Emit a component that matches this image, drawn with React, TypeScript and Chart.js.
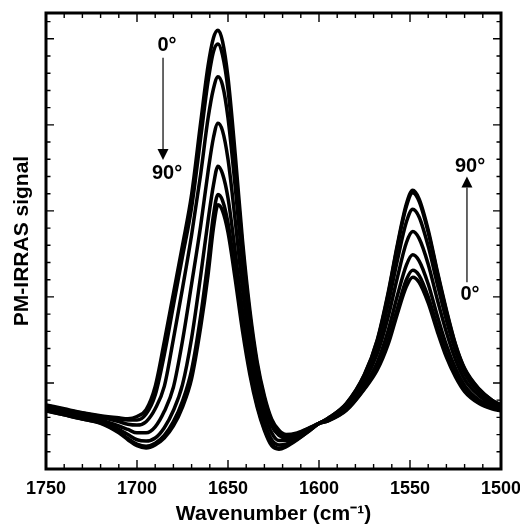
import { useEffect, useRef } from 'react';
import { Chart, registerables } from 'chart.js';

Chart.register(...registerables);

// Wavenumber grid (cm-1) at which the spectra were read
const WAVENUMBERS = [1750, 1740, 1730, 1720, 1710, 1705, 1700, 1695, 1690, 1685, 1680, 1675, 1670, 1665, 1661, 1658, 1655.5, 1653, 1650, 1646, 1642, 1638, 1634, 1630, 1626, 1622, 1618, 1612, 1605, 1600, 1595, 1585, 1575, 1568, 1562, 1557, 1552, 1548.5, 1545, 1540, 1535, 1530, 1525, 1520, 1512, 1505, 1500];

// PM-IRRAS signal (arbitrary units) for each polarisation angle
const S0 = [0.745, 0.70, 0.655, 0.62, 0.595, 0.585, 0.61, 0.69, 0.96, 1.48, 2.04, 2.60, 3.19, 4.03, 4.68, 5.01, 5.10, 4.97, 4.55, 3.65, 2.65, 1.85, 1.25, 0.85, 0.58, 0.45, 0.40, 0.42, 0.48, 0.53, 0.56, 0.68, 0.93, 1.15, 1.45, 1.80, 2.12, 2.23, 2.17, 1.93, 1.60, 1.30, 1.07, 0.90, 0.76, 0.70, 0.675];
const S15 = [0.74, 0.69, 0.65, 0.61, 0.58, 0.57, 0.57, 0.64, 0.86, 1.33, 1.90, 2.47, 3.04, 3.85, 4.50, 4.85, 4.94, 4.81, 4.41, 3.53, 2.57, 1.79, 1.21, 0.82, 0.56, 0.43, 0.39, 0.41, 0.48, 0.53, 0.56, 0.69, 0.94, 1.18, 1.50, 1.86, 2.20, 2.31, 2.25, 2.00, 1.66, 1.34, 1.10, 0.92, 0.77, 0.71, 0.68];
const S30 = [0.73, 0.68, 0.64, 0.60, 0.55, 0.52, 0.51, 0.55, 0.70, 0.96, 1.51, 2.10, 2.72, 3.43, 4.07, 4.42, 4.56, 4.46, 4.08, 3.27, 2.38, 1.66, 1.11, 0.75, 0.50, 0.39, 0.36, 0.40, 0.47, 0.53, 0.57, 0.70, 0.97, 1.24, 1.61, 2.01, 2.37, 2.49, 2.42, 2.15, 1.78, 1.44, 1.17, 0.97, 0.80, 0.73, 0.69];
const S45 = [0.71, 0.66, 0.62, 0.57, 0.50, 0.46, 0.42, 0.42, 0.49, 0.67, 0.95, 1.49, 2.15, 2.83, 3.45, 3.85, 4.02, 3.93, 3.60, 2.88, 2.09, 1.45, 0.97, 0.64, 0.42, 0.33, 0.33, 0.38, 0.46, 0.53, 0.58, 0.72, 1.02, 1.34, 1.77, 2.22, 2.63, 2.76, 2.68, 2.38, 1.97, 1.59, 1.27, 1.04, 0.85, 0.75, 0.71];
const S60 = [0.69, 0.645, 0.60, 0.55, 0.46, 0.40, 0.34, 0.325, 0.36, 0.48, 0.68, 0.98, 1.52, 2.25, 2.88, 3.30, 3.52, 3.43, 3.15, 2.52, 1.83, 1.27, 0.84, 0.54, 0.34, 0.28, 0.29, 0.36, 0.46, 0.53, 0.58, 0.74, 1.06, 1.42, 1.92, 2.42, 2.87, 3.02, 2.93, 2.59, 2.15, 1.73, 1.37, 1.11, 0.89, 0.78, 0.73];
const S75 = [0.68, 0.63, 0.58, 0.535, 0.43, 0.355, 0.29, 0.265, 0.30, 0.39, 0.55, 0.79, 1.15, 1.78, 2.42, 2.95, 3.19, 3.12, 2.86, 2.29, 1.66, 1.15, 0.75, 0.47, 0.29, 0.24, 0.27, 0.345, 0.45, 0.53, 0.59, 0.76, 1.095, 1.49, 2.03, 2.58, 3.05, 3.21, 3.11, 2.75, 2.28, 1.83, 1.44, 1.16, 0.925, 0.80, 0.74];
const S90 = [0.675, 0.63, 0.58, 0.53, 0.42, 0.34, 0.27, 0.245, 0.28, 0.36, 0.50, 0.72, 1.05, 1.65, 2.25, 2.80, 3.07, 3.00, 2.75, 2.20, 1.60, 1.10, 0.72, 0.45, 0.27, 0.23, 0.26, 0.34, 0.45, 0.53, 0.59, 0.76, 1.10, 1.50, 2.05, 2.60, 3.08, 3.24, 3.14, 2.78, 2.30, 1.85, 1.45, 1.17, 0.93, 0.80, 0.745];

const ANGLES = ['0°', '15°', '30°', '45°', '60°', '75°', '90°'];
const SERIES = [S0, S15, S30, S45, S60, S75, S90];

// Axes
const X_MIN = 1500;
const X_MAX = 1750;
const X_MAJOR_STEP = 50;
const X_MINOR_STEP = 10;
const Y_MIN = 0;
const Y_MAX = 5.3;
const Y_MAJOR_STEP = 1;
const Y_MINOR_DIV = 5;

const X_TITLE = 'Wavenumber (cm⁻¹)';
const Y_TITLE = 'PM-IRRAS signal';

// Annotation arrows (data coordinates)
const AMIDE1_ARROW = { x: 1685.7, textX: 1683.5, startLabel: '0°', endLabel: '90°', startY: 4.92, lineFrom: 4.78, tip: 3.59, endY: 3.43 };
const AMIDE2_ARROW = { x: 1518.7, textX: 1517, startLabel: '0°', endLabel: '90°', startY: 2.03, lineFrom: 2.17, tip: 3.40, endY: 3.52 };

const FONT = "'Liberation Sans', Arial, Helvetica, sans-serif";

const decoPlugin = {
  id: 'deco',
  afterDraw(chart: any) {
    const { ctx, chartArea: a, scales } = chart;
    const xs = scales.x;
    const ys = scales.y;
    ctx.save();
    ctx.strokeStyle = '#000';
    ctx.fillStyle = '#000';
    ctx.lineWidth = 1.4;
    ctx.beginPath();
    const nx = Math.round((X_MAX - X_MIN) / X_MINOR_STEP);
    const perMajorX = X_MAJOR_STEP / X_MINOR_STEP;
    for (let k = 1; k < nx; k++) {
      const w = X_MIN + k * X_MINOR_STEP;
      const px = xs.getPixelForValue(w);
      const len = k % perMajorX === 0 ? 9 : 5;
      ctx.moveTo(px, a.bottom);
      ctx.lineTo(px, a.bottom - len);
      ctx.moveTo(px, a.top);
      ctx.lineTo(px, a.top + len);
    }
    const ny = Math.floor((Y_MAX - Y_MIN) / (Y_MAJOR_STEP / Y_MINOR_DIV) + 1e-6);
    for (let k = 1; k <= ny; k++) {
      const v = Y_MIN + (k * Y_MAJOR_STEP) / Y_MINOR_DIV;
      const py = ys.getPixelForValue(v);
      const len = k % Y_MINOR_DIV === 0 ? 8 : 4.5;
      ctx.moveTo(a.left, py);
      ctx.lineTo(a.left + len, py);
      ctx.moveTo(a.right, py);
      ctx.lineTo(a.right - len, py);
    }
    ctx.stroke();

    ctx.lineWidth = 3;
    ctx.strokeRect(a.left, a.top, a.right - a.left, a.bottom - a.top);

    // arrows and labels
    ctx.font = `bold 20px ${FONT}`;
    ctx.textAlign = 'center';
    ctx.textBaseline = 'middle';
    for (const arr of [AMIDE1_ARROW, AMIDE2_ARROW]) {
      const ax = xs.getPixelForValue(arr.x);
      const tx = xs.getPixelForValue(arr.textX);
      const y0 = ys.getPixelForValue(arr.lineFrom);
      const yt = ys.getPixelForValue(arr.tip);
      const dir = yt > y0 ? 1 : -1;
      const head = 11;
      ctx.lineWidth = 1.2;
      ctx.beginPath();
      ctx.moveTo(ax, y0);
      ctx.lineTo(ax, yt - dir * head);
      ctx.stroke();
      ctx.beginPath();
      ctx.moveTo(ax, yt);
      ctx.lineTo(ax - 5.5, yt - dir * head);
      ctx.lineTo(ax + 5.5, yt - dir * head);
      ctx.closePath();
      ctx.fill();
      ctx.fillText(arr.startLabel, tx, ys.getPixelForValue(arr.startY));
      ctx.fillText(arr.endLabel, tx, ys.getPixelForValue(arr.endY));
    }
    ctx.restore();
  },
};

export default function App() {
  const ref = useRef<HTMLCanvasElement | null>(null);
  useEffect(() => {
    if (!ref.current) return;
    const chart = new Chart(ref.current, {
      type: 'line',
      data: {
        datasets: SERIES.map((s, i) => ({
          label: ANGLES[i],
          data: WAVENUMBERS.map((w, j) => ({ x: w, y: s[j] })),
          borderColor: '#000',
          borderWidth: 3.5,
          pointRadius: 0,
          fill: false,
          cubicInterpolationMode: 'monotone' as const,
        })),
      },
      options: {
        animation: false,
        responsive: true,
        maintainAspectRatio: false,
        layout: { padding: { top: 13, right: 19, left: 0, bottom: 0 } },
        plugins: { legend: { display: false }, tooltip: { enabled: false } },
        scales: {
          x: {
            type: 'linear',
            reverse: true,
            min: X_MIN,
            max: X_MAX,
            ticks: {
              stepSize: X_MAJOR_STEP,
              autoSkip: false,
              maxRotation: 0,
              color: '#000',
              padding: 9,
              font: { family: FONT, size: 18, weight: 'bold' },
              callback: (v: any) => String(v),
            },
            grid: { display: false, drawTicks: false },
            border: { display: false },
            title: {
              display: true,
              text: X_TITLE,
              color: '#000',
              font: { family: FONT, size: 21, weight: 'bold', lineHeight: 1 },
              padding: { top: 0, bottom: 0 },
            },
            afterFit(s: any) {
              s.height = 56;
              s.paddingLeft = 0;
              s.paddingRight = 0;
            },
          },
          y: {
            type: 'linear',
            min: Y_MIN,
            max: Y_MAX,
            ticks: { display: false },
            grid: { display: false, drawTicks: false },
            border: { display: false },
            title: {
              display: true,
              text: Y_TITLE,
              color: '#000',
              font: { family: FONT, size: 21, weight: 'bold', lineHeight: 1 },
              padding: { top: 12, bottom: 0 },
            },
            afterFit(s: any) {
              s.width = 46;
              s.paddingTop = 0;
              s.paddingBottom = 0;
            },
          },
        },
      } as any,
      plugins: [decoPlugin],
    });
    return () => chart.destroy();
  }, []);
  return (
    <div style={{ position: 'fixed', left: 0, top: 0, width: 520, height: 525, background: '#fff' }}>
      <canvas ref={ref} />
    </div>
  );
}
